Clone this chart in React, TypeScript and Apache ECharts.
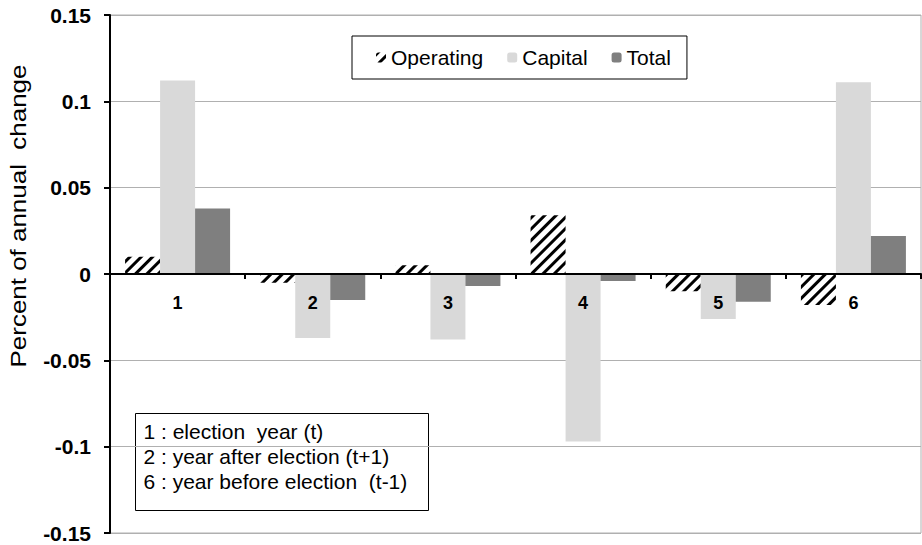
import React, { useEffect, useRef } from "react";
import * as echarts from "echarts";

const categories = ["1", "2", "3", "4", "5", "6"];
const seriesNames = ["Operating", "Capital", "Total"];
const operating = [0.01, -0.005, 0.005, 0.034, -0.01, -0.018];
const capital = [0.112, -0.037, -0.038, -0.097, -0.026, 0.111];
const total = [0.038, -0.015, -0.007, -0.004, -0.016, 0.022];
const noteLines = [
  "1 : election  year (t)",
  "2 : year after election (t+1)",
  "6 : year before election  (t-1)",
];
const yTitle = "Percent of annual  change";

export default function App() {
  const ref = useRef<HTMLDivElement>(null);
  useEffect(() => {
    document.body.style.margin = "0";
    const chart = echarts.init(ref.current!, null, { renderer: "svg" });
    const font = "Arial, 'Liberation Sans', sans-serif";
    const hatch = {
      symbol: "rect",
      symbolSize: 1,
      dashArrayX: [1, 0],
      dashArrayY: [2.5, 5],
      rotation: -Math.PI / 4,
      color: "#000",
      backgroundColor: "#fff",
    };
    chart.setOption({
      animation: false,
      textStyle: { fontFamily: font },
      grid: {
        left: 110,
        right: 1,
        top: 15,
        bottom: 12,
        show: true,
        borderColor: "#b0b0b0",
        borderWidth: 1,
        outerBoundsMode: "none",
        containLabel: false,
      },
      legend: {
        left: 352,
        top: 36,
        data: seriesNames,
        backgroundColor: "#fff",
        borderColor: "#000",
        borderWidth: 1,
        padding: [11, 16, 11, 24],
        itemWidth: 10,
        itemHeight: 10,
        itemGap: 24,
        textStyle: { fontSize: 21, color: "#000", fontFamily: font },
      },
      xAxis: {
        type: "category",
        data: categories,
        position: "bottom",
        offset: -259,
        z: 10,
        axisLine: { onZero: false, lineStyle: { color: "#000", width: 2 } },
        axisTick: { show: true, length: 5, lineStyle: { color: "#000", width: 2 } },
        axisLabel: { margin: 20, fontSize: 18, fontWeight: "bold", color: "#000", fontFamily: font },
        splitLine: { show: false },
      },
      yAxis: {
        type: "value",
        min: -0.15,
        max: 0.15,
        interval: 0.05,
        axisLine: { show: true, lineStyle: { color: "#000", width: 2 } },
        axisTick: { show: true, length: 6, lineStyle: { color: "#000", width: 2 } },
        axisLabel: {
          margin: 19,
          fontSize: 21,
          fontWeight: "bold",
          color: "#000",
          fontFamily: font,
          formatter: (v: number) => String(parseFloat(v.toFixed(2))),
        },
        splitLine: { show: true, lineStyle: { color: "#b0b0b0", width: 1 } },
      },
      series: [
        {
          name: seriesNames[0],
          type: "bar",
          data: operating,
          barWidth: 35,
          barGap: "0%",
          itemStyle: { color: "#fff", decal: hatch },
        },
        {
          name: seriesNames[1],
          type: "bar",
          data: capital,
          barWidth: 35,
          barGap: "0%",
          itemStyle: { color: "#d9d9d9" },
        },
        {
          name: seriesNames[2],
          type: "bar",
          data: total,
          barWidth: 35,
          barGap: "0%",
          itemStyle: { color: "#7f7f7f" },
        },
      ],
      graphic: [
        {
          type: "text",
          x: 7,
          y: 216,
          rotation: Math.PI / 2,
          scaleX: 1.18,
          style: {
            text: yTitle,
            font: `22px ${font}`,
            fill: "#000",
            align: "center",
            verticalAlign: "top",
          },
        },
        {
          type: "group",
          left: 135,
          top: 413,
          children: [
            {
              type: "rect",
              shape: { x: 0, y: 0, width: 293, height: 97 },
              style: { fill: "#fff", stroke: "#000", lineWidth: 1 },
            },
            ...noteLines.map((t, i) => ({
              type: "text",
              x: 8,
              y: 18 + i * 25,
              style: {
                text: t,
                font: `21px ${font}`,
                fill: "#000",
                verticalAlign: "middle",
              },
            })),
          ],
        },
      ],
    });
    return () => chart.dispose();
  }, []);
  return <div ref={ref} style={{ width: 922, height: 545 }} />;
}
